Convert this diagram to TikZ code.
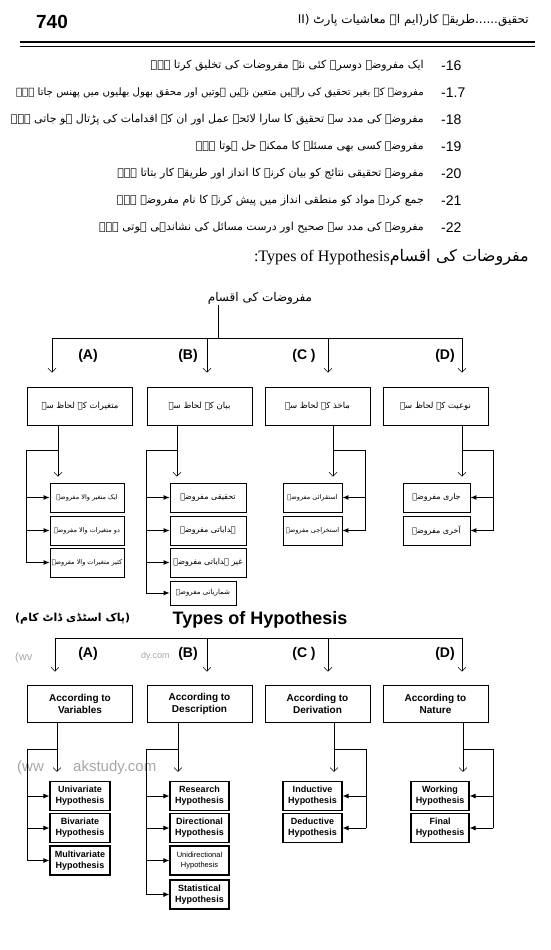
\documentclass[tikz,border=0pt]{standalone}
\usepackage{fontspec}
\usepackage{tikz}
\usetikzlibrary{arrows.meta}
\setmainfont{Liberation Serif}
\setsansfont{Liberation Sans}
\newfontfamily\urdufont[Script=Arabic]{DejaVu Sans}
\TeXXeTstate=1
\newcommand{\urd}[1]{{\urdufont\beginR#1\endR}}
\newcommand{\fs}[1]{\fontsize{#1}{#1}\selectfont}
\newcommand{\fsl}[2]{\fontsize{#1}{#2}\selectfont}

\begin{document}
\begin{tikzpicture}[x=1pt,y=-1pt,
    every node/.style={inner sep=1pt},
    line/.style={font=\fs{11}},
    num/.style={anchor=west,font=\sffamily\fs{14}},
    lab/.style={font=\sffamily\bfseries\fs{14}},
    mainbox/.style={draw,line width=.7pt,minimum width=105pt,minimum height=38pt,align=center},
    subbox/.style={draw,line width=.8pt,minimum height=29pt,align=center},
    engsub/.style={subbox,line width=1.1pt,font=\sffamily\bfseries\fsl{9}{11}},
    conn/.style={line width=.6pt},
    openarr/.style={conn,-{Straight Barb[length=4pt,width=8pt]}},
    fillarr/.style={line width=.9pt,-{Latex[length=6pt,width=5pt]}},
    wm/.style={text=black!35,font=\sffamily\fs{11}}]
  \useasboundingbox (0,0) rectangle (550,950);

  % page head
  \node[font=\sffamily\bfseries\fs{19}] (pg) at (52,22) {740};
  \node[anchor=east,font=\fs{12}] (hd) at (530,20) {\urd{تحقیق......طریقہ کار(ایم اے معاشیات پارٹ II)}};
  \coordinate (r1) at (20,42);
  \coordinate (r2) at (535,42);
  \draw[line width=1.6pt] (r1) -- (r2);
  \draw[line width=.5pt] ([yshift=-4pt]r1) -- ([yshift=-4pt]r2);

  % numbered points
  \node[line,anchor=east] (t16) at (425,66) {\urd{ایک مفروضہ دوسرے کئی نئے مفروضات کی تخلیق کرتا ہے۔}};
  \node[line,anchor=east,font=\fs{10.2}] (t17) at (425,93) {\urd{مفروضے کے بغیر تحقیق کی راہیں متعین نہیں ہوتیں اور محقق بھول بھلیوں میں پھنس جاتا ہے۔}};
  \node[line,anchor=east] (t18) at (425,120) {\urd{مفروضے کی مدد سے تحقیق کا سارا لائحہ عمل اور ان کے اقدامات کی پڑتال ہو جاتی ہے۔}};
  \node[line,anchor=east] (t19) at (425,147) {\urd{مفروضہ کسی بھی مسئلے کا ممکنہ حل ہوتا ہے۔}};
  \node[line,anchor=east] (t20) at (425,174) {\urd{مفروضہ تحقیقی نتائج کو بیان کرنے کا انداز اور طریقہ کار بتاتا ہے۔}};
  \node[line,anchor=east] (t21) at (425,201) {\urd{جمع کردہ مواد کو منطقی انداز میں پیش کرنے کا نام مفروضہ ہے۔}};
  \node[line,anchor=east] (t22) at (425,228) {\urd{مفروضے کی مدد سے صحیح اور درست مسائل کی نشاندہی ہوتی ہے۔}};
  \node[num] (n16) at (440,66) {-16};
  \node[num] (n17) at (440,93) {-1.7};
  \node[num] (n18) at (440,120) {-18};
  \node[num] (n19) at (440,147) {-19};
  \node[num] (n20) at (440,174) {-20};
  \node[num] (n21) at (440,201) {-21};
  \node[num] (n22) at (440,228) {-22};

  \node[anchor=east,font=\fs{12}] (ty) at (530,257) {\rmfamily\fs{16}:Types of Hypothesis\urd{مفروضات کی اقسام}};

  % urdu chart
  \node[font=\fs{12}] (ut) at (260,298) {\urd{مفروضات کی اقسام}};
  \coordinate (st) at (218,338);
  \coordinate (ba) at (52,338);
  \coordinate (bb) at (207,338);
  \coordinate (bc) at (328,338);
  \coordinate (bd) at (462,338);
  \node[mainbox,font=\fs{8.5}] (ua) at (80,406) {\urd{متغیرات کے لحاظ سے}};
  \node[mainbox,font=\fs{8.5}] (ub) at (199.5,406) {\urd{بیان کے لحاظ سے}};
  \node[mainbox,font=\fs{8.5}] (uc) at (317.5,406) {\urd{ماخذ کے لحاظ سے}};
  \node[mainbox,font=\fs{8.5}] (ud) at (435.5,406) {\urd{نوعیت کے لحاظ سے}};
  \node[lab] (ula) at (88,356) {(A)};
  \node[lab] (ulb) at (188,356) {(B)};
  \node[lab] (ulc) at (304,356) {(C )};
  \node[lab] (uld) at (445,356) {(D)};
  \draw[conn] (st |- ut.south) -- (st);
  \draw[conn] (ba) -- (bd);
  \draw[openarr,shorten >=14pt] (ba) -- (ba |- ua.north);
  \draw[openarr,shorten >=14pt] (bb) -- (bb |- ub.north);
  \draw[openarr,shorten >=14pt] (bc) -- (bc |- uc.north);
  \draw[openarr,shorten >=14pt] (bd) -- (bd |- ud.north);

  \node[subbox,minimum width=74pt,font=\fs{6.5}] (ua1) at (87,497.5) {\urd{ایک متغیر والا مفروضہ}};
  \node[subbox,minimum width=74pt,font=\fs{6.5}] (ua2) at (87,530.5) {\urd{دو متغیرات والا مفروضہ}};
  \node[subbox,minimum width=74pt,font=\fs{6.5}] (ua3) at (87,562.5) {\urd{کثیر متغیرات والا مفروضہ}};
  \node[subbox,minimum width=76pt,font=\fs{8}] (ub1) at (208,497.5) {\urd{تحقیقی مفروضہ}};
  \node[subbox,minimum width=76pt,font=\fs{8}] (ub2) at (208,530.5) {\urd{ہدایاتی مفروضہ}};
  \node[subbox,minimum width=76pt,font=\fs{8}] (ub3) at (208,562.5) {\urd{غیر ہدایاتی مفروضہ}};
  \node[subbox,minimum width=66pt,minimum height=24pt,font=\fs{7}] (ub4) at (203,593) {\urd{شماریاتی مفروضہ}};
  \node[subbox,minimum width=59pt,font=\fs{6.5}] (uc1) at (312.5,497.5) {\urd{استقرائی مفروضہ}};
  \node[subbox,minimum width=59pt,font=\fs{6.5}] (uc2) at (312.5,530.5) {\urd{استخراجی مفروضہ}};
  \node[subbox,minimum width=67pt,font=\fs{8}] (ud1) at (436.5,497.5) {\urd{جاری مفروضہ}};
  \node[subbox,minimum width=67pt,font=\fs{8}] (ud2) at (436.5,530.5) {\urd{آخری مفروضہ}};

  \coordinate (ja) at (58,450);
  \coordinate (jb) at (177,450);
  \coordinate (jc) at (333,450);
  \coordinate (jd) at (462,450);
  \coordinate (ka) at (26,450);
  \coordinate (kb) at (146,450);
  \coordinate (kc) at (365,450);
  \coordinate (kd) at (493,450);
  \draw[openarr,shorten >=6pt] (ja |- ua.south) -- (ja |- ua1.north);
  \draw[openarr,shorten >=6pt] (jb |- ub.south) -- (jb |- ub1.north);
  \draw[openarr,shorten >=6pt] (jc |- uc.south) -- (jc |- uc1.north);
  \draw[openarr,shorten >=6pt] (jd |- ud.south) -- (jd |- ud1.north);
  \draw[conn] (ja) -- (ka) -- (ka |- ua3);
  \draw[conn] (jb) -- (kb) -- (kb |- ub4);
  \draw[conn] (jc) -- (kc) -- (kc |- uc2);
  \draw[conn] (jd) -- (kd) -- (kd |- ud2);
  \draw[fillarr] (ka |- ua1) -- (ua1);
  \draw[fillarr] (ka |- ua2) -- (ua2);
  \draw[fillarr] (ka |- ua3) -- (ua3);
  \draw[fillarr] (kb |- ub1) -- (ub1);
  \draw[fillarr] (kb |- ub2) -- (ub2);
  \draw[fillarr] (kb |- ub3) -- (ub3);
  \draw[fillarr] (kb |- ub4) -- (ub4);
  \draw[fillarr] (kc |- uc1) -- (uc1);
  \draw[fillarr] (kc |- uc2) -- (uc2);
  \draw[fillarr] (kd |- ud1) -- (ud1);
  \draw[fillarr] (kd |- ud2) -- (ud2);

  % english chart
  \node[anchor=west,font=\fs{11}] (pk) at (14,619) {\urd{\bfseries(پاک اسٹڈی ڈاٹ کام)}};
  \node[font=\sffamily\bfseries\fs{18}] (et) at (260,620) {Types of Hypothesis};
  \node[wm,anchor=west] (w1) at (14,658) {(wv};
  \node[wm,anchor=west,font=\sffamily\fs{9}] (w2) at (140,656) {dy.com};
  \node[wm,anchor=west,font=\sffamily\fs{15}] (w3) at (16,768) {(ww};
  \node[wm,anchor=west,font=\sffamily\fs{15}] (w4) at (72,768) {akstudy.com};
  \coordinate (ea) at (55,638);
  \coordinate (eb) at (207,638);
  \coordinate (ec) at (328,638);
  \coordinate (ed) at (462,638);
  \node[mainbox,minimum height=37pt,font=\sffamily\bfseries\fsl{10}{12}] (xa) at (80,703.5) {According to\\Variables};
  \node[mainbox,minimum height=37pt,font=\sffamily\bfseries\fsl{10}{12}] (xb) at (199.5,703.5) {According to\\Description};
  \node[mainbox,minimum height=37pt,font=\sffamily\bfseries\fsl{10}{12}] (xc) at (317.5,703.5) {According to\\Derivation};
  \node[mainbox,minimum height=37pt,font=\sffamily\bfseries\fsl{10}{12}] (xd) at (435.5,703.5) {According to\\Nature};
  \node[lab] (ela) at (88,654) {(A)};
  \node[lab] (elb) at (188,654) {(B)};
  \node[lab] (elc) at (304,654) {(C )};
  \node[lab] (eld) at (445,654) {(D)};
  \draw[conn] (ea) -- (ed);
  \draw[openarr,shorten >=13pt] (ea) -- (ea |- xa.north);
  \draw[openarr,shorten >=13pt] (eb) -- (eb |- xb.north);
  \draw[openarr,shorten >=13pt] (ec) -- (ec |- xc.north);
  \draw[openarr,shorten >=13pt] (ed) -- (ed |- xd.north);

  \node[engsub,minimum width=60pt] (xa1) at (80,796) {Univariate\\Hypothesis};
  \node[engsub,minimum width=60pt] (xa2) at (80,828) {Bivariate\\Hypothesis};
  \node[engsub,minimum width=60pt] (xa3) at (80,860.5) {Multivariate\\Hypothesis};
  \node[engsub,minimum width=59pt] (xb1) at (199.5,796) {Research\\Hypothesis};
  \node[engsub,minimum width=59pt] (xb2) at (199.5,828) {Directional\\Hypothesis};
  \node[engsub,minimum width=59pt,font=\sffamily\fsl{7.5}{10}] (xb3) at (199.5,860.5) {Unidirectional\\Hypothesis};
  \node[engsub,minimum width=59pt] (xb4) at (199.5,894.5) {Statistical\\Hypothesis};
  \node[engsub,minimum width=59pt] (xc1) at (312.5,796) {Inductive\\Hypothesis};
  \node[engsub,minimum width=59pt] (xc2) at (312.5,828) {Deductive\\Hypothesis};
  \node[engsub,minimum width=58pt] (xd1) at (440,796) {Working\\Hypothesis};
  \node[engsub,minimum width=58pt] (xd2) at (440,828) {Final\\Hypothesis};

  \coordinate (ga) at (57,749);
  \coordinate (gb) at (178,749);
  \coordinate (gc) at (334,749);
  \coordinate (gd) at (463,749);
  \coordinate (ha) at (27,749);
  \coordinate (hb) at (146,749);
  \coordinate (hc) at (366,749);
  \coordinate (hd) at (493,749);
  \draw[openarr,shorten >=9pt] (ga |- xa.south) -- (ga |- xa1.north);
  \draw[openarr,shorten >=9pt] (gb |- xb.south) -- (gb |- xb1.north);
  \draw[openarr,shorten >=9pt] (gc |- xc.south) -- (gc |- xc1.north);
  \draw[openarr,shorten >=9pt] (gd |- xd.south) -- (gd |- xd1.north);
  \draw[conn] (ga) -- (ha) -- (ha |- xa3);
  \draw[conn] (gb) -- (hb) -- (hb |- xb4);
  \draw[conn] (gc) -- (hc) -- (hc |- xc2);
  \draw[conn] (gd) -- (hd) -- (hd |- xd2);
  \draw[fillarr] (ha |- xa1) -- (xa1);
  \draw[fillarr] (ha |- xa2) -- (xa2);
  \draw[fillarr] (ha |- xa3) -- (xa3);
  \draw[fillarr] (hb |- xb1) -- (xb1);
  \draw[fillarr] (hb |- xb2) -- (xb2);
  \draw[fillarr] (hb |- xb3) -- (xb3);
  \draw[fillarr] (hb |- xb4) -- (xb4);
  \draw[fillarr] (hc |- xc1) -- (xc1);
  \draw[fillarr] (hc |- xc2) -- (xc2);
  \draw[fillarr] (hd |- xd1) -- (xd1);
  \draw[fillarr] (hd |- xd2) -- (xd2);
\end{tikzpicture}
\end{document}
